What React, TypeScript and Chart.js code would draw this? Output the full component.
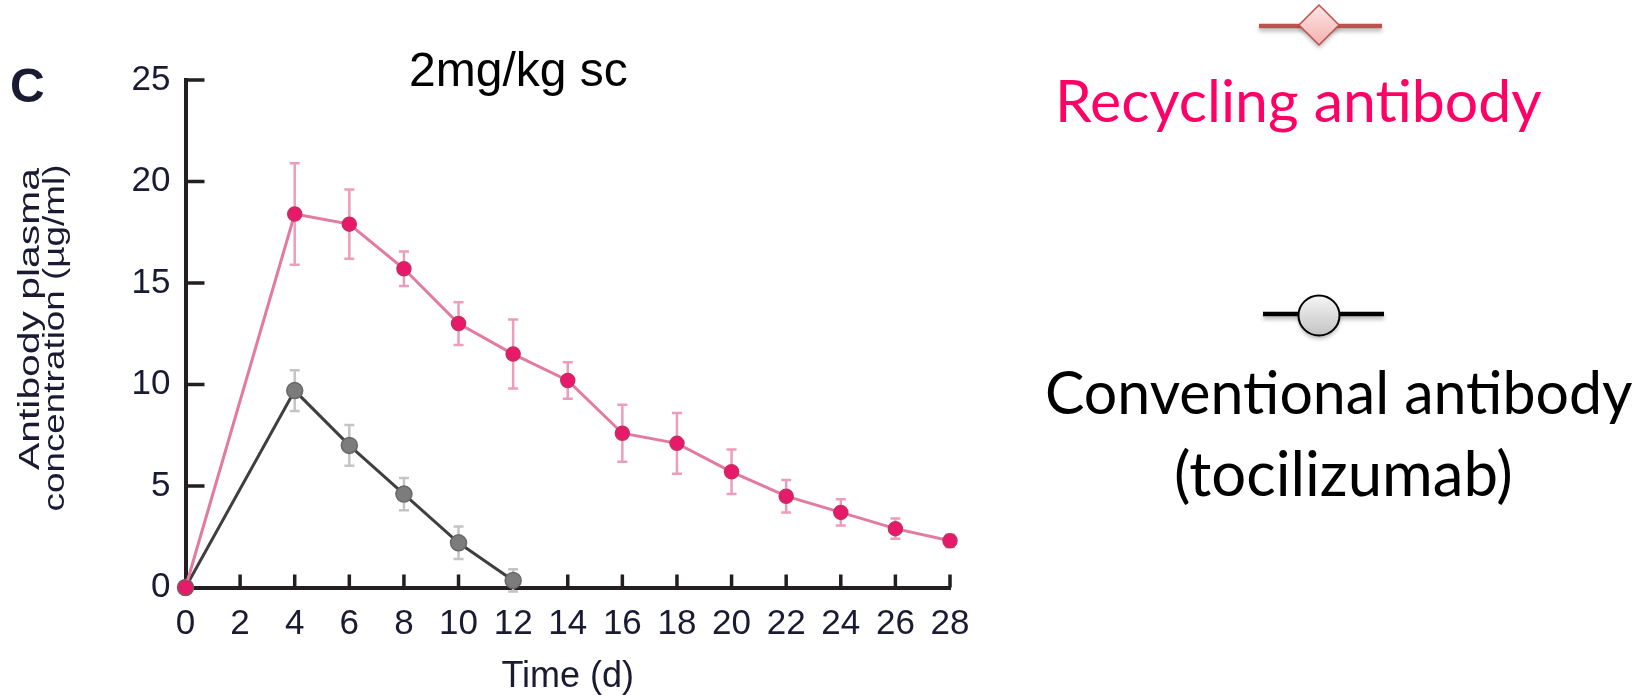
import React, { useEffect, useRef } from "react";
import { Chart, registerables } from "chart.js";

Chart.register(...registerables);

// ---------- data ----------
const recyclingDays = [0, 4, 6, 8, 10, 12, 14, 16, 18, 20, 22, 24, 26, 28];
const recycling = [0, 18.4, 17.9, 15.7, 13.0, 11.5, 10.2, 7.6, 7.1, 5.7, 4.5, 3.7, 2.9, 2.3];
const recyclingErr = [0, 2.5, 1.7, 0.85, 1.05, 1.7, 0.9, 1.4, 1.5, 1.1, 0.8, 0.65, 0.5, 0.3];

const conventionalDays = [0, 4, 6, 8, 10, 12];
const conventional = [0, 9.7, 7.0, 4.6, 2.2, 0.35];
const conventionalErr = [0, 1.0, 1.0, 0.8, 0.8, 0.55];

const xTicks = [0, 2, 4, 6, 8, 10, 12, 14, 16, 18, 20, 22, 24, 26, 28];
const yTicks = [0, 5, 10, 15, 20, 25];

const panelLabel = "C";
const chartTitle = "2mg/kg sc";
const xTitle = "Time (d)";
const yTitle = ["Antibody plasma", "concentration (µg/ml)"];
const recyclingLabel = "Recycling antibody";
const conventionalLabel = ["Conventional antibody", "(tocilizumab)"];

const seriesErrors = [recyclingErr, conventionalErr];

const AX_FONT = "'Liberation Sans', Arial, Helvetica, sans-serif";
const AX_COLOR = "#1a1a32";
const LEG_FONT = "Lato, 'Open Sans', sans-serif";

// ---------- plugins ----------
const errorBarsPlugin = {
  id: "errorBars",
  beforeDatasetsDraw(chart: any) {
    const { ctx } = chart;
    const x = chart.scales.x;
    const y = chart.scales.y;
    const colors = ["#eb9dbb", "#c4c4c4"];
    chart.data.datasets.forEach((ds: any, di: number) => {
      const errs = seriesErrors[di];
      ds.data.forEach((p: any, i: number) => {
        const e = errs[i];
        if (!e) return;
        const px = x.getPixelForValue(p.x);
        const yt = y.getPixelForValue(p.y + e);
        const yb = y.getPixelForValue(p.y - e);
        ctx.save();
        ctx.strokeStyle = colors[di];
        ctx.lineWidth = 2.5;
        ctx.beginPath();
        ctx.moveTo(px, yt);
        ctx.lineTo(px, yb);
        ctx.moveTo(px - 5, yt);
        ctx.lineTo(px + 5, yt);
        ctx.moveTo(px - 5, yb);
        ctx.lineTo(px + 5, yb);
        ctx.stroke();
        ctx.restore();
      });
    });
  },
};

const innerTicksPlugin = {
  id: "innerTicks",
  beforeDatasetsDraw(chart: any) {
    const { ctx } = chart;
    const x = chart.scales.x;
    const y = chart.scales.y;
    const x0 = x.getPixelForValue(0);
    const y0 = y.getPixelForValue(0);
    ctx.save();
    ctx.strokeStyle = "#231f20";
    ctx.lineWidth = 3.5;
    ctx.beginPath();
    xTicks.forEach((v) => {
      if (v === 0) return;
      const px = x.getPixelForValue(v);
      ctx.moveTo(px, y0);
      ctx.lineTo(px, y0 - 13);
    });
    yTicks.forEach((v) => {
      if (v === 0) return;
      const py = y.getPixelForValue(v);
      ctx.moveTo(x0, py);
      ctx.lineTo(x0 + 19, py);
    });
    ctx.stroke();
    ctx.restore();
  },
};

function drawFitted(
  ctx: CanvasRenderingContext2D,
  text: string,
  family: string,
  weight: string,
  inkLeft: number,
  inkWidth: number,
  baseline: number,
  color: string
) {
  ctx.font = `${weight} 100px ${family}`;
  const m = ctx.measureText(text);
  const w = m.actualBoundingBoxLeft + m.actualBoundingBoxRight;
  const size = (100 * inkWidth) / w;
  ctx.font = `${weight} ${size}px ${family}`;
  const m2 = ctx.measureText(text);
  ctx.fillStyle = color;
  ctx.textAlign = "left";
  ctx.textBaseline = "alphabetic";
  ctx.fillText(text, inkLeft + m2.actualBoundingBoxLeft, baseline);
}

function drawVerticalStretched(
  ctx: CanvasRenderingContext2D,
  text: string,
  cx: number,
  cy: number,
  length: number,
  size: number
) {
  ctx.save();
  ctx.font = `${size}px ${AX_FONT}`;
  const w = ctx.measureText(text).width;
  const sx = length / w;
  ctx.translate(cx, cy);
  ctx.rotate(-Math.PI / 2);
  ctx.scale(sx, 1);
  ctx.fillStyle = AX_COLOR;
  ctx.textAlign = "center";
  ctx.textBaseline = "middle";
  ctx.fillText(text, 0, 0);
  ctx.restore();
}

const decorPlugin = {
  id: "decor",
  afterDraw(chart: any) {
    const { ctx } = chart;
    ctx.save();
    // panel label
    ctx.fillStyle = "#1a1a30";
    ctx.font = `bold 48px ${AX_FONT}`;
    ctx.textAlign = "left";
    ctx.textBaseline = "alphabetic";
    ctx.fillText(panelLabel, 10, 102);
    // title
    ctx.fillStyle = "#000";
    ctx.font = `48px ${AX_FONT}`;
    ctx.fillText(chartTitle, 409, 86);

    // y-axis title (two lines, rotated)
    drawVerticalStretched(ctx, yTitle[0], 31, 319, 302, 30);
    drawVerticalStretched(ctx, yTitle[1], 56, 338, 347, 30);

    // legend: recycling (line + diamond)
    ctx.save();
    ctx.shadowColor = "rgba(0,0,0,0.3)";
    ctx.shadowBlur = 4;
    ctx.shadowOffsetY = 3;
    ctx.strokeStyle = "#c0504d";
    ctx.lineWidth = 4.5;
    ctx.beginPath();
    ctx.moveTo(1259, 26);
    ctx.lineTo(1382, 26);
    ctx.stroke();
    const dg = ctx.createLinearGradient(0, 5, 0, 45);
    dg.addColorStop(0, "#fde6e6");
    dg.addColorStop(1, "#f6b0b0");
    ctx.fillStyle = dg;
    ctx.beginPath();
    ctx.moveTo(1319, 5);
    ctx.lineTo(1339, 25);
    ctx.lineTo(1319, 45);
    ctx.lineTo(1299, 25);
    ctx.closePath();
    ctx.fill();
    ctx.shadowColor = "transparent";
    ctx.lineWidth = 1.5;
    ctx.strokeStyle = "#c0504d";
    ctx.stroke();
    ctx.restore();

    // legend: conventional (line + circle)
    ctx.save();
    ctx.shadowColor = "rgba(0,0,0,0.3)";
    ctx.shadowBlur = 4;
    ctx.shadowOffsetY = 3;
    ctx.strokeStyle = "#000";
    ctx.lineWidth = 4.5;
    ctx.beginPath();
    ctx.moveTo(1263, 314);
    ctx.lineTo(1384, 314);
    ctx.stroke();
    const cg = ctx.createLinearGradient(0, 295, 0, 336);
    cg.addColorStop(0, "#f6f6f6");
    cg.addColorStop(1, "#c2c2c2");
    ctx.fillStyle = cg;
    ctx.beginPath();
    ctx.ellipse(1319, 315.5, 20.5, 20, 0, 0, Math.PI * 2);
    ctx.fill();
    ctx.shadowColor = "transparent";
    ctx.lineWidth = 2;
    ctx.stroke();
    ctx.restore();

    // legend texts
    drawFitted(ctx, recyclingLabel, LEG_FONT, "normal", 1060, 481, 122, "#ff0066");
    drawFitted(ctx, conventionalLabel[0], LEG_FONT, "normal", 1047, 585, 414, "#000");
    drawFitted(ctx, conventionalLabel[1], LEG_FONT, "normal", 1176, 334, 496, "#000");
    ctx.restore();
  },
};

export default function App() {
  const ref = useRef<HTMLCanvasElement>(null);

  useEffect(() => {
    document.body.style.margin = "0";
    const canvas = ref.current!;
    const chart = new Chart(canvas, {
      type: "line",
      data: {
        datasets: [
          {
            label: recyclingLabel,
            data: recyclingDays.map((d, i) => ({ x: d, y: recycling[i] })),
            borderColor: "#e27aa1",
            borderWidth: 3,
            pointBackgroundColor: "#e8196a",
            pointBorderColor: "#c4305f",
            pointBorderWidth: 1.5,
            pointRadius: 7,
            pointStyle: "circle",
            clip: false as any,
            tension: 0,
          },
          {
            label: conventionalLabel.join(" "),
            data: conventionalDays.map((d, i) => ({ x: d, y: conventional[i] })),
            borderColor: "#3f3f3f",
            borderWidth: 3,
            pointBackgroundColor: "#7c7c7c",
            pointBorderColor: "#686868",
            pointBorderWidth: 1.5,
            pointRadius: 8,
            pointStyle: "circle",
            clip: false as any,
            tension: 0,
          },
        ],
      },
      options: {
        responsive: false,
        animation: false,
        devicePixelRatio: 1,
        layout: { padding: { left: 0, top: 80, right: 692, bottom: 0 } },
        plugins: {
          legend: { display: false },
          tooltip: { enabled: false },
        },
        scales: {
          x: {
            type: "linear",
            min: 0,
            max: 28,
            afterBuildTicks: (s: any) => {
              s.ticks = xTicks.map((v) => ({ value: v }));
            },
            afterFit: (s: any) => {
              s.height = 109.5;
            },
            grid: { display: false, drawTicks: false },
            border: { display: true, width: 4, color: "#231f20" },
            ticks: {
              padding: 16,
              color: AX_COLOR,
              font: { family: AX_FONT, size: 35 },
              maxRotation: 0,
              autoSkip: false,
            },
            title: {
              display: true,
              text: xTitle,
              color: AX_COLOR,
              font: { family: AX_FONT, size: 36, lineHeight: 1 },
              padding: { top: 0, bottom: 1.5 },
            },
          },
          y: {
            type: "linear",
            min: 0,
            max: 25,
            afterBuildTicks: (s: any) => {
              s.ticks = yTicks.map((v) => ({ value: v }));
            },
            afterFit: (s: any) => {
              s.width = 185.5;
            },
            grid: { display: false, drawTicks: false },
            border: { display: true, width: 4, color: "#231f20" },
            ticks: {
              padding: 15,
              color: AX_COLOR,
              font: { family: AX_FONT, size: 35 },
            },
            title: { display: false, text: yTitle },
          },
        },
      },
      plugins: [innerTicksPlugin, errorBarsPlugin, decorPlugin],
    } as any);
    return () => chart.destroy();
  }, []);

  return (
    <div
      style={{
        position: "absolute",
        left: 0,
        top: 0,
        width: 1642,
        height: 697,
        background: "#ffffff",
        overflow: "hidden",
      }}
    >
      <canvas ref={ref} width={1642} height={697} style={{ display: "block", width: 1642, height: 697 }} />
    </div>
  );
}
